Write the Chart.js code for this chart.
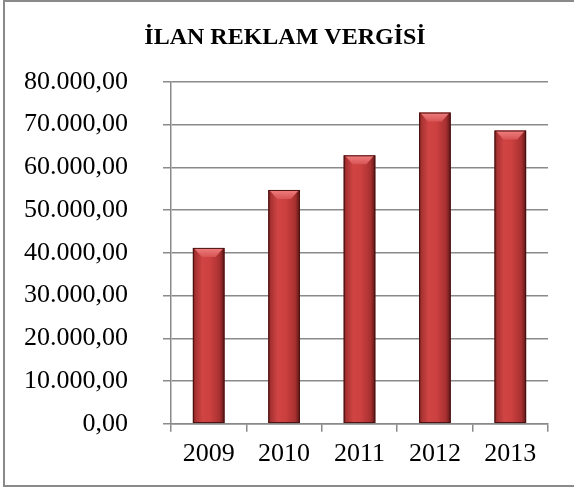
<!DOCTYPE html>
<html>
<head>
<meta charset="utf-8">
<script src="https://cdn.jsdelivr.net/npm/chart.js@4/dist/chart.umd.min.js"></script>
<style>
    body { margin: 0; background: #fff; overflow: hidden; }
    #frame {
        position: absolute; left: 3px; top: 0px;
        width: 590px; height: 487px;
        border: 2px solid #8a8a8a;
        box-sizing: border-box;
    }
    #wrap { position: absolute; left: 0; top: 0; width: 574px; height: 488px; }
</style>
</head>
<body>
<div id="frame"></div>
<div id="wrap"><canvas id="vergiChart" width="574" height="488"></canvas></div>
<script>
const years = ['2009', '2010', '2011', '2012', '2013'];
const vergi = [41150, 54700, 62800, 72800, 68600];
const yTicks = [0, 10000, 20000, 30000, 40000, 50000, 60000, 70000, 80000];
const BAR_PCT = 0.42;

function tr_format(v){
    // 80000 -> "80.000,00"
    let s = Math.round(v).toString().replace(/\B(?=(\d{3})+(?!\d))/g, '.');
    return s + ',00';
}

function bar_fill(ctx){
    const xs = ctx.chart.scales.x;
    if (!xs) return '#c83c3c';
    const cx = xs.getPixelForValue(ctx.dataIndex);
    const w = xs.width / years.length * BAR_PCT;
    if (!isFinite(cx) || !isFinite(w)) return '#c83c3c';
    const g = ctx.chart.ctx.createLinearGradient(cx - w / 2, 0, cx + w / 2, 0);
    g.addColorStop(0, '#6e1c1c');
    g.addColorStop(0.08, '#a83232');
    g.addColorStop(0.3, '#d04444');
    g.addColorStop(0.55, '#cc4040');
    g.addColorStop(0.85, '#a83030');
    g.addColorStop(1, '#5a1616');
    return g;
}

// light bevel on the top of every bar
const bevel = {
    id: 'bevel',
    afterDatasetsDraw(chart){
        const c = chart.ctx;
        chart.getDatasetMeta(0).data.forEach(bar => {
            const x0 = bar.x - bar.width / 2, x1 = bar.x + bar.width / 2;
            const top = bar.y, d = 9;
            c.save();
            const g = c.createLinearGradient(0, top, 0, top + d);
            g.addColorStop(0, '#f08080');
            g.addColorStop(1, '#d85454');
            c.fillStyle = g;
            c.beginPath();
            c.moveTo(x0 + 1, top);
            c.lineTo(x1 - 1, top);
            c.lineTo(x1 - d, top + d);
            c.lineTo(x0 + d, top + d);
            c.closePath();
            c.fill();
            c.strokeStyle = '#4a1010';
            c.lineWidth = 1;
            c.strokeRect(x0 + 0.5, top + 0.5, bar.width - 1, bar.base - top - 1);
            c.restore();
        });
    }
};

const ctx = document.getElementById('vergiChart').getContext('2d');
new Chart(ctx, {
    type: 'bar',
    data: {
        labels: years,
        datasets: [{
            data: vergi,
            backgroundColor: bar_fill,
            borderWidth: 0,
            categoryPercentage: 1,
            barPercentage: BAR_PCT
        }]
    },
    options: {
        responsive: false,
        animation: false,
        layout: { padding: { left: 22, right: 26, top: 0, bottom: 11 } },
        plugins: {
            legend: { display: false },
            tooltip: { enabled: false },
            title: {
                display: true,
                text: 'İLAN REKLAM VERGİSİ',
                color: '#000',
                font: { family: 'Liberation Serif', size: 24, weight: 'bold' },
                padding: { top: 23, bottom: 30 }
            }
        },
        scales: {
            x: {
                grid: { drawOnChartArea: false, tickLength: 8, color: '#8a8a8a', lineWidth: 1.5 },
                border: { color: '#8a8a8a', width: 1.5 },
                ticks: { color: '#000', font: { family: 'Liberation Serif', size: 26 }, padding: 7 }
            },
            y: {
                min: 0,
                max: 80000,
                afterBuildTicks: axis => { axis.ticks = yTicks.map(v => ({ value: v })); },
                afterFit: axis => { axis.width = 149; },
                grid: { color: '#8a8a8a', lineWidth: 1.5, tickLength: 8 },
                border: { color: '#8a8a8a', width: 1.5 },
                ticks: {
                    color: '#000',
                    font: { family: 'Liberation Serif', size: 26 },
                    padding: 35,
                    callback: v => tr_format(v)
                }
            }
        }
    },
    plugins: [bevel]
});
</script>
</body>
</html>
